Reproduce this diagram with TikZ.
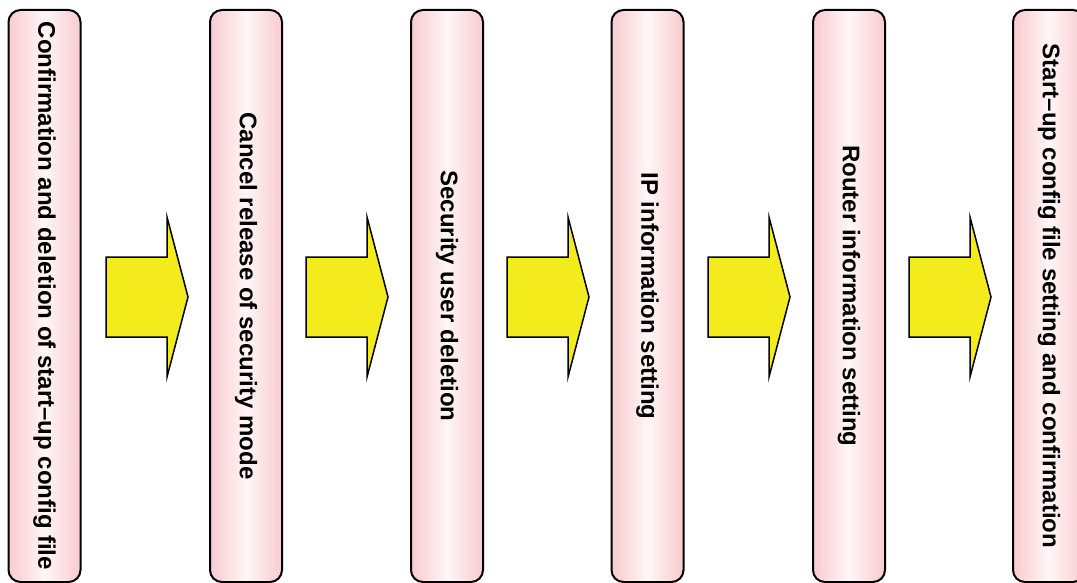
\documentclass[tikz,border=0pt]{standalone}
\usepackage{fontspec}
\setmainfont{Liberation Sans}
\usepackage{graphicx}
\definecolor{boxpink}{HTML}{F8CBCF}
\definecolor{boxwhite}{HTML}{FFF6F6}
\definecolor{arrowyellow}{HTML}{F3EB1B}
\tikzset{
  stepbox/.style={draw=black, line width=2pt, rounded corners=12pt,
    left color=boxpink, right color=boxpink, middle color=boxwhite,
    minimum width=72pt, minimum height=572pt, inner sep=0pt,
    font=\fontsize{24}{24}\selectfont\bfseries},
  blockarrow/.style={draw=black, line width=1.5pt, fill=arrowyellow, line join=miter}
}
\newcommand{\blockarr}[1]{%
  \draw[blockarrow, shift={(#1)}] (0,-40) -- (61,-40) -- (61,-80) -- (82,0) -- (61,80) -- (61,40) -- (0,40) -- cycle;}
\begin{document}
\begin{tikzpicture}[x=1pt,y=-1pt]
\useasboundingbox (0,0) rectangle (1077,583);
\node[stepbox] (b1) at (44.5,296) {\rotatebox{-90}{Confirmation and deletion of start--up config file}};
\node[stepbox] (b2) at (246,296) {\rotatebox{-90}{Cancel release of security mode}};
\node[stepbox] (b3) at (447,296) {\rotatebox{-90}{Security user deletion}};
\node[stepbox] (b4) at (647.5,296) {\rotatebox{-90}{IP information setting}};
\node[stepbox] (b5) at (849,296) {\rotatebox{-90}{Router information setting}};
\node[stepbox] (b6) at (1049,296) {\rotatebox{-90}{Start--up config file setting and confirmation}};
\coordinate (a1) at (106,297);
\coordinate (a2) at (306,297);
\coordinate (a3) at (507,297);
\coordinate (a4) at (708,297);
\coordinate (a5) at (909,297);
\blockarr{a1}
\blockarr{a2}
\blockarr{a3}
\blockarr{a4}
\blockarr{a5}
\end{tikzpicture}
\end{document}
